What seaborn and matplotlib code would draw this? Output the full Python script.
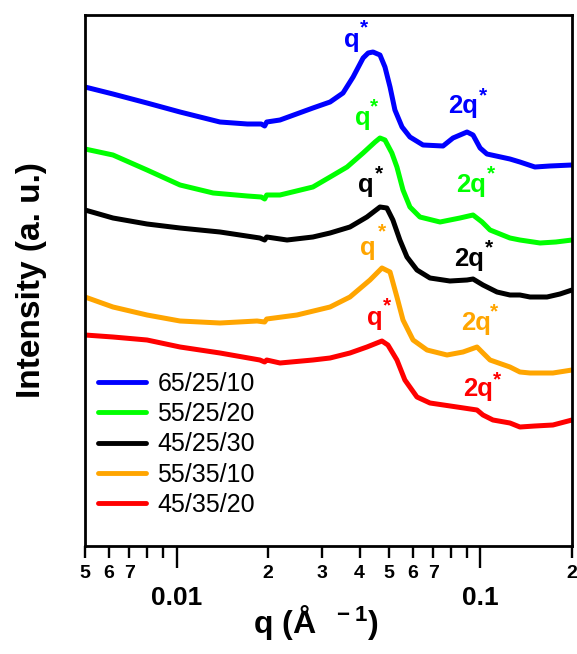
import numpy as np
import pandas as pd
import matplotlib
matplotlib.use("Agg")
import matplotlib.pyplot as plt
from matplotlib.ticker import FixedLocator, FixedFormatter
import seaborn as sns

# ---------------- data ----------------
samples = ["65/25/10", "55/25/20", "45/25/30", "55/35/10", "45/35/20"]
colors = ["#0000FF", "#00FF00", "#000000", "#FFA500", "#FF0000"]

q_blue = [0.00500, 0.00618, 0.00800, 0.01027, 0.0139, 0.0171, 0.0190, 0.0195, 0.0198, 0.0219,
          0.0281, 0.0320, 0.0353, 0.0381, 0.0411, 0.0427, 0.0443, 0.0467, 0.0485, 0.0504,
          0.0523, 0.0552, 0.0586, 0.0647, 0.0753, 0.0812, 0.0903, 0.0945, 0.0997, 0.1050,
          0.1250, 0.1348, 0.151, 0.169, 0.200]
i_blue = [4.59, 4.52, 4.43, 4.34, 4.24, 4.22, 4.22, 4.20, 4.24, 4.26,
          4.38, 4.44, 4.53, 4.69, 4.88, 4.93, 4.94, 4.91, 4.79, 4.59,
          4.36, 4.19, 4.09, 4.01, 4.00, 4.08, 4.14, 4.11, 3.98, 3.92,
          3.87, 3.84, 3.79, 3.80, 3.81]

q_green = [0.00500, 0.00618, 0.00800, 0.01027, 0.0132, 0.0171, 0.0190, 0.0195, 0.0198, 0.0219,
           0.0281, 0.0320, 0.0364, 0.0411, 0.0450, 0.0467, 0.0485, 0.0511, 0.0531, 0.0556,
           0.0586, 0.0632, 0.0736, 0.0856, 0.0945, 0.1012, 0.1075, 0.1250, 0.1348, 0.157,
           0.177, 0.200]
i_green = [3.97, 3.91, 3.76, 3.61, 3.53, 3.50, 3.49, 3.47, 3.51, 3.51,
           3.59, 3.69, 3.79, 3.93, 4.04, 4.08, 4.06, 3.93, 3.79, 3.56,
           3.39, 3.29, 3.24, 3.28, 3.31, 3.24, 3.16, 3.08, 3.06, 3.03,
           3.04, 3.06]

q_black = [0.00500, 0.00618, 0.00800, 0.01027, 0.0139, 0.0188, 0.0195, 0.0198, 0.0231, 0.0281,
           0.0320, 0.0372, 0.0423, 0.0467, 0.0492, 0.0515, 0.0543, 0.0573, 0.0618, 0.0682,
           0.0793, 0.0903, 0.0945, 0.1019, 0.1133, 0.1250, 0.1348, 0.1455, 0.1655, 0.1826,
           0.200]
i_black = [3.36, 3.28, 3.22, 3.18, 3.14, 3.08, 3.06, 3.09, 3.06, 3.09,
           3.13, 3.19, 3.29, 3.39, 3.38, 3.26, 3.06, 2.89, 2.76, 2.68,
           2.65, 2.66, 2.67, 2.61, 2.54, 2.51, 2.51, 2.49, 2.49, 2.52,
           2.56]

q_orange = [0.00500, 0.00618, 0.00800, 0.01027, 0.0139, 0.0184, 0.0195, 0.0198, 0.0249, 0.0320,
            0.0372, 0.0433, 0.0474, 0.0504, 0.0531, 0.0556, 0.0600, 0.0667, 0.0776, 0.0876,
            0.0974, 0.1019, 0.1075, 0.1250, 0.1348, 0.1455, 0.1731, 0.200]
i_orange = [2.49, 2.39, 2.31, 2.25, 2.23, 2.25, 2.24, 2.27, 2.31, 2.39,
            2.49, 2.66, 2.78, 2.74, 2.49, 2.26, 2.06, 1.96, 1.91, 1.94,
            1.99, 1.93, 1.86, 1.79, 1.74, 1.73, 1.73, 1.76]

q_red = [0.00500, 0.00618, 0.00800, 0.01027, 0.0139, 0.0188, 0.0195, 0.0198, 0.0219, 0.0281,
         0.0320, 0.0372, 0.0423, 0.0474, 0.0496, 0.0531, 0.0564, 0.0618, 0.0682, 0.0837,
         0.0974, 0.1019, 0.1099, 0.1250, 0.1348, 0.151, 0.1731, 0.200]
i_red = [2.11, 2.09, 2.06, 1.99, 1.93, 1.86, 1.84, 1.86, 1.83, 1.86,
         1.88, 1.93, 1.99, 2.05, 2.01, 1.86, 1.66, 1.49, 1.43, 1.39,
         1.36, 1.31, 1.26, 1.23, 1.19, 1.20, 1.21, 1.26]

major_ticks = [0.01, 0.1]
major_labels = ["0.01", "0.1"]
minor_ticks = [0.005, 0.006, 0.007, 0.008, 0.009,
               0.02, 0.03, 0.04, 0.05, 0.06, 0.07, 0.08, 0.09, 0.2]
minor_labels = ["5", "6", "7", "", "", "2", "3", "4", "5", "6", "7", "", "", "2"]

# ---------------- build long table ----------------
qs = [q_blue, q_green, q_black, q_orange, q_red]
ins = [i_blue, i_green, i_black, i_orange, i_red]
frames = []
for name, q, it in zip(samples, qs, ins):
    frames.append(pd.DataFrame({"q": q, "I": it, "sample": name}))
df = pd.concat(frames, ignore_index=True)

# ---------------- style ----------------
sns.set_theme(style="white")
plt.rcParams["font.family"] = ["Liberation Sans", "DejaVu Sans"]
plt.rcParams["font.weight"] = "bold"
plt.rcParams["text.color"] = "black"
plt.rcParams["axes.labelcolor"] = "black"
plt.rcParams["mathtext.fontset"] = "custom"
plt.rcParams["mathtext.bf"] = "Liberation Sans:bold"
plt.rcParams["mathtext.rm"] = "Liberation Sans:bold"
plt.rcParams["mathtext.default"] = "bf"

W, H = 577, 654
fig = plt.figure(figsize=(W / 100, H / 100), dpi=100)
ax = fig.add_axes([85 / W, 1 - 546 / H, 487 / W, 531 / H])

sns.lineplot(data=df, x="q", y="I", hue="sample", hue_order=samples,
             palette=dict(zip(samples, colors)), estimator=None, sort=False,
             linewidth=3.6, ax=ax)
for ln in ax.get_lines():
    ln.set_solid_joinstyle("round")
    ln.set_solid_capstyle("round")

ax.set_xscale("log")
ax.set_xlim(0.005, 0.2)
ax.set_ylim(0, 5.31)

ax.xaxis.set_major_locator(FixedLocator(major_ticks))
ax.xaxis.set_major_formatter(FixedFormatter(major_labels))
ax.xaxis.set_minor_locator(FixedLocator(minor_ticks))
ax.xaxis.set_minor_formatter(FixedFormatter(minor_labels))
ax.tick_params(axis="x", which="major", direction="out", length=16, width=1.7,
               pad=13, labelsize=19, color="black", labelcolor="black", bottom=True)
ax.tick_params(axis="x", which="minor", direction="out", length=8.5, width=1.7,
               pad=5, labelsize=14, color="black", labelcolor="black", bottom=True)
ax.tick_params(axis="y", left=False, labelleft=False)
for sp in ax.spines.values():
    sp.set_color("black")
    sp.set_linewidth(2.0)

ax.set_ylabel("Intensity (a. u.)", fontsize=24, fontweight="bold", color="black")
ax.yaxis.set_label_coords(-0.078, 0.5)
ax.set_xlabel("q (Å $^{\\ -1}$)", fontsize=23, fontweight="bold", color="black")
ax.xaxis.set_label_coords(0.474, -0.108)

handles, labels = ax.get_legend_handles_labels()
leg = ax.legend(handles, labels, loc="upper left", bbox_to_anchor=(0.0267, 0.328),
                frameon=False, borderaxespad=0, borderpad=0,
                prop={"family": "Liberation Sans", "weight": "normal", "size": 18},
                handlelength=1.9, handletextpad=0.48, labelspacing=0.25,
                labelcolor="black")
for h in leg.get_lines():
    h.set_linewidth(3.5)

# ---------------- peak annotations ----------------
def fxy(x, y):
    return x / W, 1 - y / H

ann = [  # (text, colour, x_px, baseline_px, star_x, star_y)
    ("q", colors[0], 352, 47, 364, 22), ("2q", colors[0], 463, 113, 483, 90),
    ("q", colors[1], 363, 125, 374, 101), ("2q", colors[1], 471, 192, 491, 168),
    ("q", colors[2], 366, 192, 379, 168), ("2q", colors[2], 469, 266, 489, 242),
    ("q", colors[3], 368, 255, 382, 226), ("2q", colors[3], 476, 330, 494, 306),
    ("q", colors[4], 375, 325, 387, 300), ("2q", colors[4], 478, 396, 497, 374),
]
for t, c, x, yb, sx, sy in ann:
    fig.text(*fxy(x, yb), t, color=c, fontsize=18.5, fontweight="bold",
             ha="center", va="baseline")
    fig.text(*fxy(sx, sy + 11), "*", color=c, fontsize=15, fontweight="bold",
             ha="center", va="baseline")

fig.savefig("out.png", dpi=100)
